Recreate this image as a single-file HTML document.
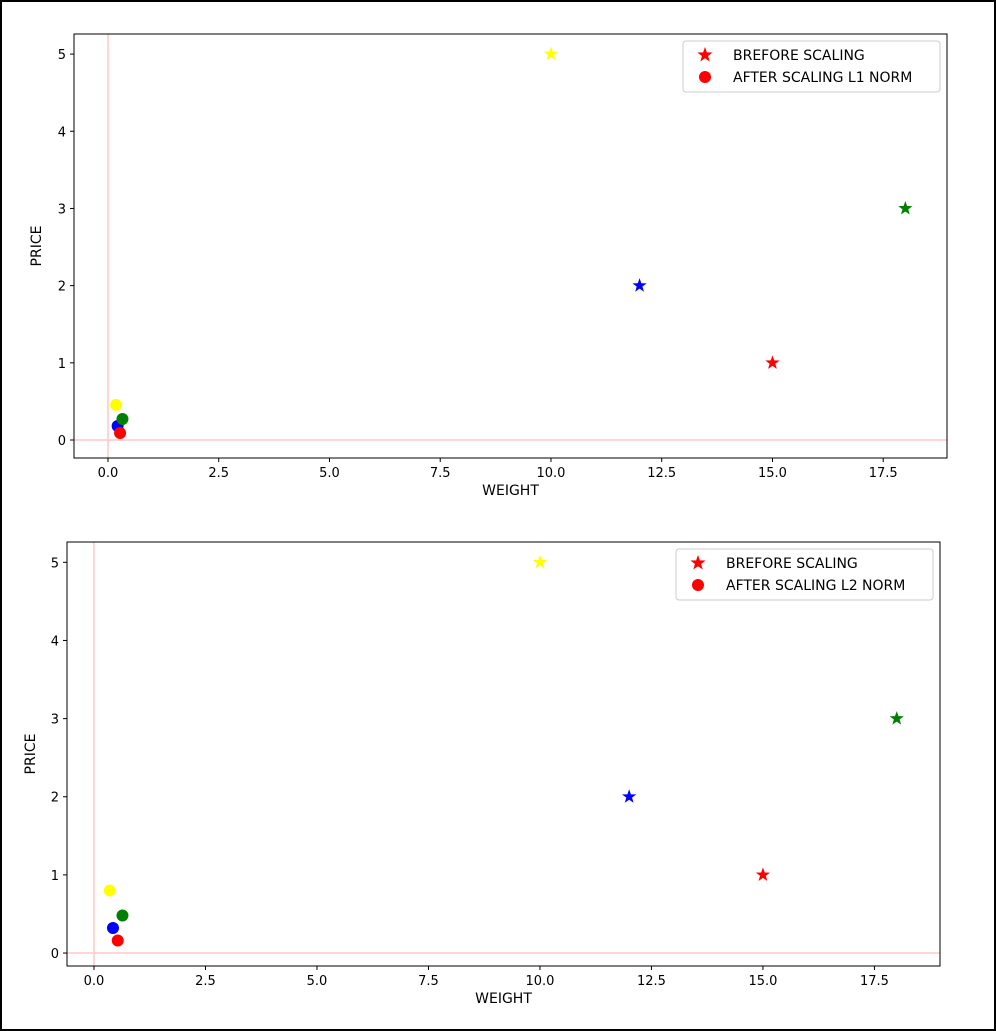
<!DOCTYPE html>
<html><head><meta charset="utf-8"><style>
html,body{margin:0;padding:0;background:#fff}
svg{display:block}
text{font-family:"DejaVu Sans","Liberation Sans",sans-serif;font-size:13px;fill:#000}
text.big{font-size:14px}
</style></head><body>
<svg id="chart" width="996" height="1031" viewBox="0 0 996 1031" xmlns="http://www.w3.org/2000/svg">
<rect x="1" y="1" width="994" height="1029" fill="#fff" stroke="#000" stroke-width="2"/>
</svg>
<script>
const colors = ['yellow','blue','red','green'];
const weights = [10, 12, 15, 18];
const prices = [5, 2, 1, 3];
const l1Weights = [0.1818, 0.2182, 0.2727, 0.3273];
const l1Prices = [0.4545, 0.1818, 0.0909, 0.2727];
const l2Weights = [0.3551, 0.4261, 0.5327, 0.6392];
const l2Prices = [0.8006, 0.3203, 0.1601, 0.4804];
const xTicks = [0, 2.5, 5, 7.5, 10, 12.5, 15, 17.5];
const xTickLabels = ['0.0','2.5','5.0','7.5','10.0','12.5','15.0','17.5'];
const yTicks = [0,1,2,3,4,5];

const NS='http://www.w3.org/2000/svg';
const svg=document.getElementById('chart');
function mk(tag,attrs,parent){const e=document.createElementNS(NS,tag);for(const k in attrs)e.setAttribute(k,attrs[k]);(parent||svg).appendChild(e);return e;}
function starPath(cx,cy,R){const r=R*0.4;let d='';for(let i=0;i<10;i++){const a=-Math.PI/2+i*Math.PI/5;const rr=i%2?r:R;d+=(i?'L':'M')+(cx+rr*Math.cos(a)).toFixed(2)+','+(cy+rr*Math.sin(a)).toFixed(2);}return d+'Z';}

function panel(cfg){
  const g=mk('g',{});
  
  
  const X=v=>cfg.x0+(v-cfg.xmin)/(cfg.xmax-cfg.xmin)*(cfg.x1-cfg.x0);
  const Y=v=>cfg.y1-(v-cfg.ymin)/(cfg.ymax-cfg.ymin)*(cfg.y1-cfg.y0);
  const vl=mk('line',{x1:X(0),x2:X(0),y1:cfg.y0,y2:cfg.y1,stroke:'#ffc8c8','stroke-width':1.5},g);
  
  const hl=mk('line',{x1:cfg.x0,x2:cfg.x1,y1:Y(0),y2:Y(0),stroke:'#ffc8c8','stroke-width':1.5},g);
  
  xTicks.forEach((t,i)=>{
    const x=X(t);
    mk('line',{x1:x,x2:x,y1:cfg.y1,y2:cfg.y1+4,stroke:'#000'},g);
    const tx=mk('text',{x:x,y:cfg.y1+19,'text-anchor':'middle'},g);tx.textContent=xTickLabels[i];
    
  });
  yTicks.forEach(t=>{
    const y=Y(t);
    mk('line',{x1:cfg.x0-4,x2:cfg.x0,y1:y,y2:y,stroke:'#000'},g);
    const tx=mk('text',{x:cfg.x0-8,y:y+5,'text-anchor':'end'},g);tx.textContent=t;
    
  });
  weights.forEach((w,i)=>{
    const s=mk('path',{d:starPath(X(w),Y(prices[i]),7.5),fill:colors[i]},g);
    
  });
  cfg.sw.forEach((w,i)=>{
    const c=mk('circle',{cx:X(w),cy:Y(cfg.sp[i]),r:6,fill:colors[i]},g);
    
  });
  mk('rect',{x:cfg.x0,y:cfg.y0,width:cfg.x1-cfg.x0,height:cfg.y1-cfg.y0,fill:'none',stroke:'#000','stroke-width':1},g);
  const xl=mk('text',{x:(cfg.x0+cfg.x1)/2,y:cfg.y1+37,'text-anchor':'middle','class':'big'},g);xl.textContent='WEIGHT';
  
  const yl=mk('text',{x:cfg.ylx,y:(cfg.y0+cfg.y1)/2,'text-anchor':'middle','class':'big',transform:`rotate(-90 ${cfg.ylx} ${(cfg.y0+cfg.y1)/2})`},g);yl.textContent='PRICE';
  
  const lg=mk('g',{},g);
  
  mk('rect',{x:cfg.lx,y:cfg.ly,width:257,height:51,rx:3,fill:'#fff',stroke:'#ccc'},lg);
  mk('path',{d:starPath(cfg.lx+22,cfg.ly+14,8),fill:'red'},lg);
  mk('circle',{cx:cfg.lx+22,cy:cfg.ly+36,r:6,fill:'red'},lg);
  const t1=mk('text',{x:cfg.lx+50,y:cfg.ly+19,'class':'big'},lg);t1.textContent='BREFORE SCALING';
  
  const t2=mk('text',{x:cfg.lx+50,y:cfg.ly+41,'class':'big'},lg);t2.textContent=cfg.label;
  
}
panel({name:'l1-chart',x0:74,x1:947,y0:34,y1:458,xmin:-0.767,xmax:18.94,ymin:-0.233,ymax:5.26,ylx:41,lx:683,ly:41,sw:l1Weights,sp:l1Prices,label:'AFTER SCALING L1 NORM'});
panel({name:'l2-chart',x0:67,x1:940,y0:542,y1:966,xmin:-0.605,xmax:18.97,ymin:-0.166,ymax:5.26,ylx:35,lx:676,ly:549,sw:l2Weights,sp:l2Prices,label:'AFTER SCALING L2 NORM'});
</script>
</body></html>
